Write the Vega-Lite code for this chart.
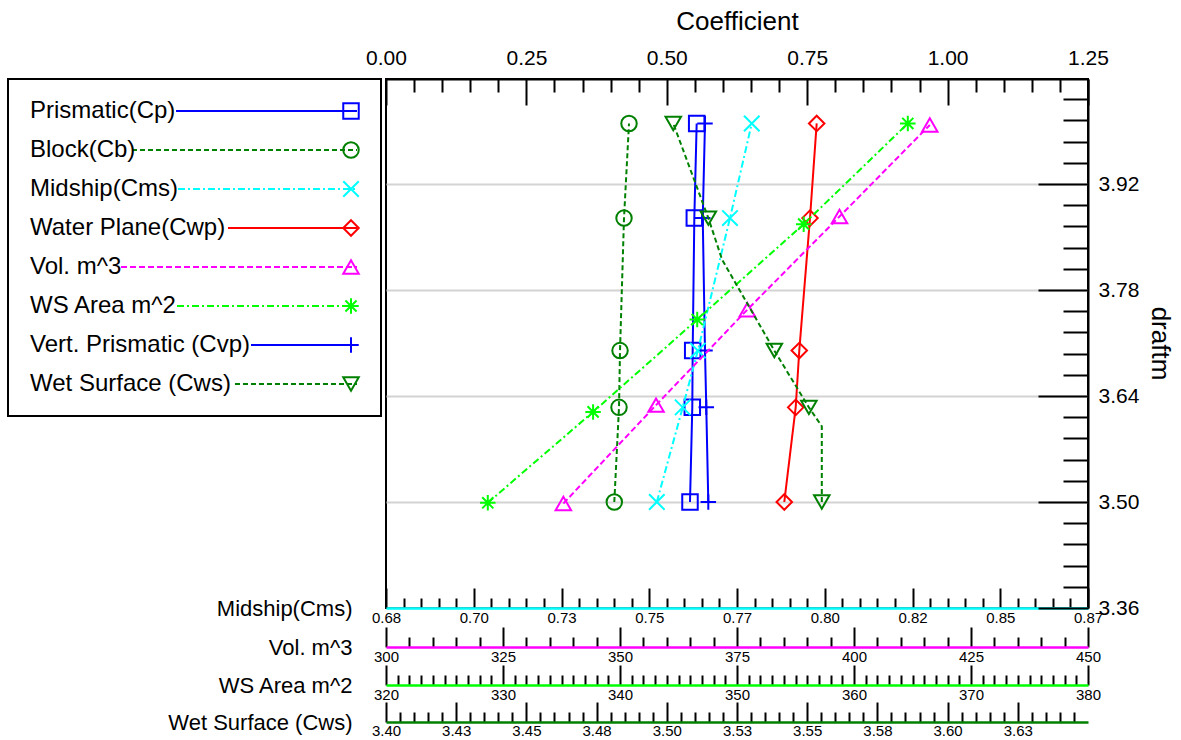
{
  "$schema": "https://vega.github.io/schema/vega-lite/v6.json",
  "autosize": "none",
  "width": 702,
  "height": 529,
  "padding": {"left": 386, "top": 79, "right": 93, "bottom": 132},
  "datasets": {
    "pts": [
      {"series": "Prismatic(Cp)", "draft": 4.0, "value": 0.5532},
      {"series": "Prismatic(Cp)", "draft": 3.875, "value": 0.549},
      {"series": "Prismatic(Cp)", "draft": 3.7, "value": 0.5461},
      {"series": "Prismatic(Cp)", "draft": 3.625, "value": 0.5454},
      {"series": "Prismatic(Cp)", "draft": 3.5, "value": 0.5413},
      {"series": "Block(Cb)", "draft": 4.0, "value": 0.4327},
      {"series": "Block(Cb)", "draft": 3.875, "value": 0.4238},
      {"series": "Block(Cb)", "draft": 3.7, "value": 0.4167},
      {"series": "Block(Cb)", "draft": 3.625, "value": 0.4149},
      {"series": "Block(Cb)", "draft": 3.5, "value": 0.4065},
      {"series": "Midship(Cms)", "draft": 4.0, "value": 0.779},
      {"series": "Midship(Cms)", "draft": 3.875, "value": 0.7731},
      {"series": "Midship(Cms)", "draft": 3.7, "value": 0.7644},
      {"series": "Midship(Cms)", "draft": 3.625, "value": 0.7603},
      {"series": "Midship(Cms)", "draft": 3.5, "value": 0.7533},
      {"series": "Water Plane(Cwp)", "draft": 4.0, "value": 0.7669},
      {"series": "Water Plane(Cwp)", "draft": 3.875, "value": 0.755},
      {"series": "Water Plane(Cwp)", "draft": 3.7, "value": 0.7359},
      {"series": "Water Plane(Cwp)", "draft": 3.625, "value": 0.7295},
      {"series": "Water Plane(Cwp)", "draft": 3.5, "value": 0.7092},
      {"series": "Vol. m^3", "draft": 3.998, "value": 416.2},
      {"series": "Vol. m^3", "draft": 3.877, "value": 396.9},
      {"series": "Vol. m^3", "draft": 3.754, "value": 377.2},
      {"series": "Vol. m^3", "draft": 3.628, "value": 357.7},
      {"series": "Vol. m^3", "draft": 3.498, "value": 337.9},
      {"series": "WS Area m^2", "draft": 4.0, "value": 364.6},
      {"series": "WS Area m^2", "draft": 3.867, "value": 355.7},
      {"series": "WS Area m^2", "draft": 3.741, "value": 346.6},
      {"series": "WS Area m^2", "draft": 3.619, "value": 337.7},
      {"series": "WS Area m^2", "draft": 3.499, "value": 328.7},
      {"series": "Vert. Prismatic (Cvp)", "draft": 4.0, "value": 0.568},
      {"series": "Vert. Prismatic (Cvp)", "draft": 3.875, "value": 0.564},
      {"series": "Vert. Prismatic (Cvp)", "draft": 3.7, "value": 0.568},
      {"series": "Vert. Prismatic (Cvp)", "draft": 3.625, "value": 0.5703},
      {"series": "Vert. Prismatic (Cvp)", "draft": 3.5, "value": 0.5739},
      {"series": "Wet Surface  (Cws)", "draft": 4.0, "value": 3.5023},
      {"series": "Wet Surface  (Cws)", "draft": 3.875, "value": 3.5148},
      {"series": "Wet Surface  (Cws)", "draft": 3.7, "value": 3.5383},
      {"series": "Wet Surface  (Cws)", "draft": 3.625, "value": 3.5506},
      {"series": "Wet Surface  (Cws)", "draft": 3.5, "value": 3.5552}
    ],
    "cwsLine": [
      {"series": "Wet Surface  (Cws)", "draft": 4.0, "value": 3.5023},
      {"series": "Wet Surface  (Cws)", "draft": 3.875, "value": 3.5148},
      {"series": "Wet Surface  (Cws)", "draft": 3.82, "value": 3.5197},
      {"series": "Wet Surface  (Cws)", "draft": 3.7, "value": 3.5383},
      {"series": "Wet Surface  (Cws)", "draft": 3.625, "value": 3.5506},
      {"series": "Wet Surface  (Cws)", "draft": 3.6, "value": 3.5552},
      {"series": "Wet Surface  (Cws)", "draft": 3.5, "value": 3.5552}
    ]
  },
  "data": {"name": "pts"},
  "config": {
    "view": {"stroke": "black", "strokeWidth": 2},
    "font": "Liberation Sans",
    "axis": {
      "labelFont": "Liberation Sans", "titleFont": "Liberation Sans",
      "labelColor": "black", "titleColor": "black", "titleFontWeight": "normal",
      "tickColor": "black", "tickWidth": 2, "domainColor": "black", "domainWidth": 2,
      "labelFlush": false, "labelOverlap": false, "labelBound": false, "grid": false
    }
  },
  "encoding": {
    "y": {
      "field": "draft", "type": "quantitative",
      "scale": {"domain": [3.36, 4.0587], "nice": false, "zero": false},
      "axis": {
        "orient": "right", "title": "draftm", "titleFontSize": 26,
        "titleX": 71, "titleY": 264, "titleAngle": 90, "titleAlign": "center", "titleBaseline": "middle",
        "values": [3.36,3.388,3.416,3.444,3.472,3.5,3.528,3.556,3.584,3.612,3.64,3.668,3.696,3.724,3.752,3.78,3.808,3.836,3.864,3.892,3.92,3.948,3.976,4.004,4.032],
        "labelFontSize": 21, "labelPadding": 60,
        "tickSize": {"condition": {"test": "abs((datum.value-3.36)/0.14 - round((datum.value-3.36)/0.14)) < 0.01", "value": -50}, "value": -25},
        "labelExpr": "abs((datum.value-3.36)/0.14 - round((datum.value-3.36)/0.14)) < 0.01 ? format(datum.value, '.2f') : ''",
        "grid": true, "gridWidth": 2,
        "gridColor": {"condition": {"test": "abs((datum.value-3.36)/0.14 - round((datum.value-3.36)/0.14)) < 0.01", "value": "#d3d3d3"}, "value": "transparent"}
      }
    },
    "color": {
      "field": "series", "type": "nominal",
      "scale": {
        "domain": ["Prismatic(Cp)", "Block(Cb)", "Midship(Cms)", "Water Plane(Cwp)", "Vol. m^3", "WS Area m^2", "Vert. Prismatic (Cvp)", "Wet Surface  (Cws)"],
        "range": ["#0000ff", "#008000", "#00ffff", "#ff0000", "#ff00ff", "#00ff00", "#0000ff", "#008000"]
      },
      "legend": {
        "orient": "none", "legendX": -378, "legendY": 0, "title": null,
        "labelFontSize": 24, "labelFont": "Liberation Sans", "labelColor": "black", "labelLimit": 500,
        "rowPadding": 15, "padding": 20, "symbolOffset": 317, "labelOffset": -339,
        "symbolSize": 4, "symbolStrokeWidth": 2, "strokeColor": "black",
        "encode": {
          "symbols": {"update": {
            "shape": {"signal": "datum.value == 'Prismatic(Cp)' ? 'M-181,0H0' : datum.value == 'Block(Cb)' ? 'M-225,0H0' : datum.value == 'Midship(Cms)' ? 'M-179,0H0' : datum.value == 'Water Plane(Cwp)' ? 'M-129,0H0' : datum.value == 'Vol. m^3' ? 'M-236,0H0' : datum.value == 'WS Area m^2' ? 'M-180,0H0' : datum.value == 'Vert. Prismatic (Cvp)' ? 'M-106,0H0' : 'M-122,0H0'"},
            "size": {"value": 4},
            "fill": {"value": "transparent"},
            "strokeWidth": {"value": 2}
          }},
          "legend": {"update": {"stroke": {"value": "black"}, "strokeWidth": {"value": 2}}}
        }
      }
    }
  },
  "resolve": {"scale": {"x": "independent"}},
  "layer": [
    {
      "transform": [
        {"filter": {"field": "series", "oneOf": ["Prismatic(Cp)", "Block(Cb)", "Water Plane(Cwp)", "Vert. Prismatic (Cvp)"]}},
        {"calculate": "'m' + datum.series", "as": "mk"}
      ],
      "encoding": {
        "x": {
          "field": "value", "type": "quantitative",
          "scale": {"domain": [0, 1.25], "nice": false, "zero": false},
          "axis": {
            "orient": "top", "title": "Coefficient", "titleFontSize": 26, "titleY": -50, "titleBaseline": "alphabetic",
            "values": [0,0.05,0.1,0.15,0.2,0.25,0.3,0.35,0.4,0.45,0.5,0.55,0.6,0.65,0.7,0.75,0.8,0.85,0.9,0.95,1,1.05,1.1,1.15,1.2,1.25],
            "labelFontSize": 21, "labelPadding": 37,
            "tickSize": {"condition": {"test": "abs(datum.value*4 - round(datum.value*4)) < 0.001", "value": -26}, "value": -13},
            "labelExpr": "abs(datum.value*4 - round(datum.value*4)) < 0.001 ? format(datum.value, '.2f') : ''"
          }
        }
      },
      "layer": [
        {
          "mark": {"type": "line", "strokeWidth": 2},
          "encoding": {
            "strokeDash": {"field": "series", "type": "nominal", "scale": {"domain": ["Prismatic(Cp)", "Block(Cb)", "Midship(Cms)", "Water Plane(Cwp)", "Vol. m^3", "WS Area m^2", "Vert. Prismatic (Cvp)", "Wet Surface  (Cws)"], "range": [[1,0],[5,3],[7,3,2,3],[1,0],[6,3],[7,3,2,3],[1,0],[5,3]]}},
            "order": {"field": "draft", "type": "quantitative"}
          }
        },
        {
          "mark": {"type": "point", "filled": false, "size": 240, "strokeWidth": 2, "opacity": 1},
          "encoding": {
            "shape": {"field": "mk", "type": "nominal",
              "scale": {"domain": ["mPrismatic(Cp)", "mBlock(Cb)", "mMidship(Cms)", "mWater Plane(Cwp)", "mVol. m^3", "mWS Area m^2", "mVert. Prismatic (Cvp)", "mWet Surface  (Cws)"],
                "range": ["square", "circle", "M-1,-1L1,1M-1,1L1,-1", "diamond", "triangle-up", "M-1,0H1M0,-1V1M-0.72,-0.72L0.72,0.72M-0.72,0.72L0.72,-0.72", "M-1,0H1M0,-1V1", "triangle-down"]},
              "legend": {
                "orient": "none", "legendX": -378, "legendY": 0, "title": null,
                "labelFontSize": 24, "labelFont": "Liberation Sans", "labelExpr": "''", "labelLimit": 500,
                "rowPadding": 15, "padding": 20, "symbolOffset": 311, "labelOffset": -339,
                "symbolSize": 240, "symbolStrokeWidth": 2, "symbolFillColor": "transparent"
              }
            },
            "stroke": {"field": "mk", "type": "nominal",
              "scale": {"domain": ["mPrismatic(Cp)", "mBlock(Cb)", "mMidship(Cms)", "mWater Plane(Cwp)", "mVol. m^3", "mWS Area m^2", "mVert. Prismatic (Cvp)", "mWet Surface  (Cws)"],
                "range": ["#0000ff", "#008000", "#00ffff", "#ff0000", "#ff00ff", "#00ff00", "#0000ff", "#008000"]},
              "legend": {
                "orient": "none", "legendX": -378, "legendY": 0, "title": null,
                "labelFontSize": 24, "labelFont": "Liberation Sans", "labelExpr": "''", "labelLimit": 500,
                "rowPadding": 15, "padding": 20, "symbolOffset": 311, "labelOffset": -339,
                "symbolSize": 240, "symbolStrokeWidth": 2, "symbolFillColor": "transparent"
              }
            }
          }
        }
      ]
    },
    {
      "transform": [
        {"filter": {"field": "series", "equal": "Midship(Cms)"}},
        {"calculate": "'m' + datum.series", "as": "mk"}
      ],
      "encoding": {
        "x": {
          "field": "value", "type": "quantitative",
          "scale": {"domain": [0.68, 0.87], "nice": false, "zero": false},
          "axis": {
            "orient": "bottom", "offset": 0, "title": "Midship(Cms)", "titleFontSize": 22,
            "titleX": -34, "titleY": 0, "titleAlign": "right", "titleBaseline": "middle", "titleAngle": 0,
            "values": [0.68,0.68475,0.6895,0.69425,0.699,0.70375,0.7085,0.71325,0.718,0.72275,0.7275,0.73225,0.737,0.74175,0.7465,0.75125,0.756,0.76075,0.7655,0.77025,0.775,0.77975,0.7845,0.78925,0.794,0.79875,0.8035,0.80825,0.813,0.81775,0.8225,0.82725,0.832,0.83675,0.8415,0.84625,0.851,0.85575,0.8605,0.86525,0.87],
            "labelFontSize": 15, "labelPadding": 22,
            "tickSize": {"condition": {"test": "abs((datum.value-0.68)/0.02375 - round((datum.value-0.68)/0.02375)) < 0.01", "value": -20}, "value": -10},
            "labelExpr": "abs((datum.value-0.68)/0.02375 - round((datum.value-0.68)/0.02375)) < 0.01 ? format(floor(datum.value*100+0.4999)/100, '.2f') : ''",
            "domainColor": "#00ffff", "domainWidth": 2.5
          }
        }
      },
      "layer": [
        {
          "mark": {"type": "line", "strokeWidth": 2},
          "encoding": {
            "strokeDash": {"field": "series", "type": "nominal", "scale": {"domain": ["Prismatic(Cp)", "Block(Cb)", "Midship(Cms)", "Water Plane(Cwp)", "Vol. m^3", "WS Area m^2", "Vert. Prismatic (Cvp)", "Wet Surface  (Cws)"], "range": [[1,0],[5,3],[7,3,2,3],[1,0],[6,3],[7,3,2,3],[1,0],[5,3]]}},
            "order": {"field": "draft", "type": "quantitative"}
          }
        },
        {
          "mark": {"type": "point", "filled": false, "size": 240, "strokeWidth": 2, "opacity": 1},
          "encoding": {"shape": {"field": "mk", "type": "nominal"}, "stroke": {"field": "mk", "type": "nominal"}}
        }
      ]
    },
    {
      "transform": [
        {"filter": {"field": "series", "equal": "Vol. m^3"}},
        {"calculate": "'m' + datum.series", "as": "mk"}
      ],
      "encoding": {
        "x": {
          "field": "value", "type": "quantitative",
          "scale": {"domain": [300, 450], "nice": false, "zero": false},
          "axis": {
            "orient": "bottom", "offset": 39, "title": "Vol. m^3", "titleFontSize": 22,
            "titleX": -34, "titleY": 0, "titleAlign": "right", "titleBaseline": "middle", "titleAngle": 0,
            "values": [300,305,310,315,320,325,330,335,340,345,350,355,360,365,370,375,380,385,390,395,400,405,410,415,420,425,430,435,440,445,450],
            "labelFontSize": 15, "labelPadding": 22,
            "tickSize": {"condition": {"test": "datum.value % 25 == 0", "value": -20}, "value": -10},
            "labelExpr": "datum.value % 25 == 0 ? format(datum.value, 'd') : ''",
            "domainColor": "#ff00ff", "domainWidth": 2.5
          }
        }
      },
      "layer": [
        {
          "mark": {"type": "line", "strokeWidth": 2},
          "encoding": {
            "strokeDash": {"field": "series", "type": "nominal", "scale": {"domain": ["Prismatic(Cp)", "Block(Cb)", "Midship(Cms)", "Water Plane(Cwp)", "Vol. m^3", "WS Area m^2", "Vert. Prismatic (Cvp)", "Wet Surface  (Cws)"], "range": [[1,0],[5,3],[7,3,2,3],[1,0],[6,3],[7,3,2,3],[1,0],[5,3]]}},
            "order": {"field": "draft", "type": "quantitative"}
          }
        },
        {
          "mark": {"type": "point", "filled": false, "size": 240, "strokeWidth": 2, "opacity": 1},
          "encoding": {"shape": {"field": "mk", "type": "nominal"}, "stroke": {"field": "mk", "type": "nominal"}}
        }
      ]
    },
    {
      "transform": [
        {"filter": {"field": "series", "equal": "WS Area m^2"}},
        {"calculate": "'m' + datum.series", "as": "mk"}
      ],
      "encoding": {
        "x": {
          "field": "value", "type": "quantitative",
          "scale": {"domain": [320, 380], "nice": false, "zero": false},
          "axis": {
            "orient": "bottom", "offset": 77, "title": "WS Area m^2", "titleFontSize": 22,
            "titleX": -34, "titleY": 0, "titleAlign": "right", "titleBaseline": "middle", "titleAngle": 0,
            "values": [320,321,322,323,324,325,326,327,328,329,330,331,332,333,334,335,336,337,338,339,340,341,342,343,344,345,346,347,348,349,350,351,352,353,354,355,356,357,358,359,360,361,362,363,364,365,366,367,368,369,370,371,372,373,374,375,376,377,378,379,380],
            "labelFontSize": 15, "labelPadding": 22,
            "tickSize": {"condition": {"test": "datum.value % 10 == 0", "value": -20}, "value": -10},
            "labelExpr": "datum.value % 10 == 0 ? format(datum.value, 'd') : ''",
            "domainColor": "#00ff00", "domainWidth": 2.5
          }
        }
      },
      "layer": [
        {
          "mark": {"type": "line", "strokeWidth": 2},
          "encoding": {
            "strokeDash": {"field": "series", "type": "nominal", "scale": {"domain": ["Prismatic(Cp)", "Block(Cb)", "Midship(Cms)", "Water Plane(Cwp)", "Vol. m^3", "WS Area m^2", "Vert. Prismatic (Cvp)", "Wet Surface  (Cws)"], "range": [[1,0],[5,3],[7,3,2,3],[1,0],[6,3],[7,3,2,3],[1,0],[5,3]]}},
            "order": {"field": "draft", "type": "quantitative"}
          }
        },
        {
          "mark": {"type": "point", "filled": false, "size": 240, "strokeWidth": 2, "opacity": 1},
          "encoding": {"shape": {"field": "mk", "type": "nominal"}, "stroke": {"field": "mk", "type": "nominal"}}
        }
      ]
    },
    {
      "encoding": {
        "x": {
          "field": "value", "type": "quantitative",
          "scale": {"domain": [3.4, 3.65], "nice": false, "zero": false},
          "axis": {
            "orient": "bottom", "offset": 114, "title": "Wet Surface  (Cws)", "titleFontSize": 22,
            "titleX": -34, "titleY": 0, "titleAlign": "right", "titleBaseline": "middle", "titleAngle": 0,
            "values": [3.4,3.405,3.41,3.415,3.42,3.425,3.43,3.435,3.44,3.445,3.45,3.455,3.46,3.465,3.47,3.475,3.48,3.485,3.49,3.495,3.5,3.505,3.51,3.515,3.52,3.525,3.53,3.535,3.54,3.545,3.55,3.555,3.56,3.565,3.57,3.575,3.58,3.585,3.59,3.595,3.6,3.605,3.61,3.615,3.62,3.625,3.63,3.635,3.64,3.645],
            "labelFontSize": 15, "labelPadding": 21,
            "tickSize": {"condition": {"test": "abs((datum.value-3.4)*40 - round((datum.value-3.4)*40)) < 0.01", "value": -20}, "value": -10},
            "labelExpr": "abs((datum.value-3.4)*40 - round((datum.value-3.4)*40)) < 0.01 ? format(floor(datum.value*100+0.5001)/100, '.2f') : ''",
            "domainColor": "#008000", "domainWidth": 2.5
          }
        }
      },
      "layer": [
        {
          "data": {"name": "cwsLine"},
          "mark": {"type": "line", "strokeWidth": 2},
          "encoding": {
            "strokeDash": {"field": "series", "type": "nominal", "scale": {"domain": ["Prismatic(Cp)", "Block(Cb)", "Midship(Cms)", "Water Plane(Cwp)", "Vol. m^3", "WS Area m^2", "Vert. Prismatic (Cvp)", "Wet Surface  (Cws)"], "range": [[1,0],[5,3],[7,3,2,3],[1,0],[6,3],[7,3,2,3],[1,0],[5,3]]}},
            "order": {"field": "draft", "type": "quantitative"}
          }
        },
        {
          "transform": [
            {"filter": {"field": "series", "equal": "Wet Surface  (Cws)"}},
            {"calculate": "'m' + datum.series", "as": "mk"}
          ],
          "mark": {"type": "point", "filled": false, "size": 240, "strokeWidth": 2, "opacity": 1},
          "encoding": {"shape": {"field": "mk", "type": "nominal"}, "stroke": {"field": "mk", "type": "nominal"}}
        }
      ]
    }
  ]
}
